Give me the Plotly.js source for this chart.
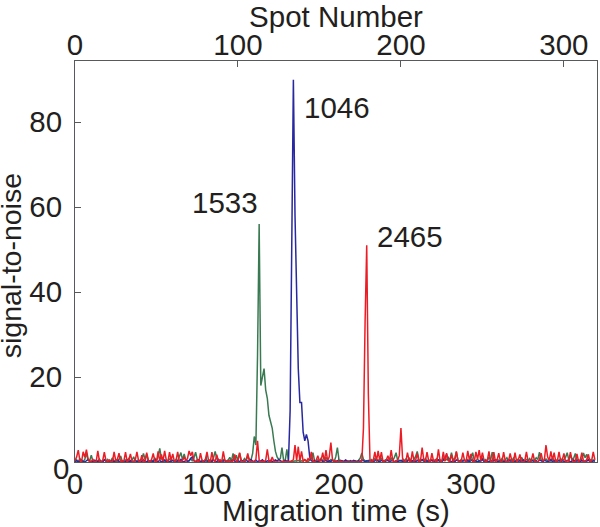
<!DOCTYPE html>
<html>
<head>
<meta charset="utf-8">
<script src="https://cdn.plot.ly/plotly-3.0.1.min.js"></script>
<style>
  html, body { margin: 0; padding: 0; background: #fff; }
  #graph { width: 600px; height: 527px; }
</style>
</head>
<body>
<div id="graph"></div>
<script>
// one value per spot (spot 0 .. 319), signal-to-noise
const green = [
  0.2, 0.5, 0.1, 0.8, 0.3, 0.1, 0.6, 2.1, 0.4, 0.3, 1.6, 0.2, 0, 0.4, 0.2, 0.7, 0.1, 0.3, 0.5, 0.2,
  0.6, 0.1, 0.3, 1.0, 0.2, 0.4, 0.1, 0.6, 1.4, 0.2, 0.1, 0.5, 0.3, 0.8, 0.2, 0.4, 1.2, 0.3, 0.1, 0.5,
  0.2, 0.7, 2.0, 0.6, 1.8, 0.3, 0.1, 0.4, 0.2, 0.9, 0.3, 1.2, 3.2, 0.8, 0.2, 0.1, 0.5, 0.3, 0.7, 0.2,
  0.4, 0.2, 0.6, 0.3, 1.1, 2.2, 0.5, 1.9, 0.4, 0.2, 0.3, 0.8, 0.2, 1.0, 2.3, 0.6, 0.3, 0.1, 0.4, 0.2,
  0.5, 0.1, 0.3, 0.6, 0.2, 1.0, 2.5, 0.8, 0.2, 0.4, 0.1, 0.6, 0.3, 0.2, 0.5, 1.1, 0.2, 2.0, 0.5, 1.6,
  0.3, 2.1, 0.4, 0.2, 0.8, 0.3, 1.3, 0.6, 0.5, 2.0, 6.0, 4.0, 25, 56, 18, 20, 22, 17, 15, 11,
  9.5, 8.0, 5.0, 2.5, 1.2, 0.6, 0.8, 3.4, 0.4, 0.3, 3.0, 0.2, 0.1, 0.2, 0.1, 0.3, 0.2, 0.4, 0.1, 0.3,
  0.2, 0.6, 0.3, 0.1, 0.4, 0.8, 2.2, 0.3, 0.1, 0.5, 0.2, 0.9, 0.3, 0.1, 1.1, 0.4, 0.2, 0.6, 0.3, 0.1,
  1.2, 3.4, 0.5, 0.2, 0.3, 0.1, 0.2, 0.1, 0.3, 0.1, 0.2, 0.1, 0.3, 0.2, 0.4, 0.9, 2.1, 0.6, 0.3, 0.2,
  0.4, 0.2, 0.6, 0.3, 0.8, 0.2, 0.5, 0.3, 1.0, 0.2, 0.4, 0.6, 0.3, 0.2, 0.9, 0.4, 1.1, 2.2, 0.3, 0.4,
  0.2, 0.5, 0.3, 0.7, 0.2, 1.0, 0.4, 0.2, 0.6, 1.3, 2.5, 0.6, 0.2, 0.4, 0.3, 0.8, 0.2, 0.5, 0.3, 0.6,
  0.2, 0.4, 0.8, 0.3, 0.5, 0.2, 0.9, 0.3, 0.6, 1.1, 0.4, 2.2, 0.5, 0.8, 2.4, 0.4, 0.2, 0.6, 0.3, 0.5,
  0.3, 0.6, 0.2, 1.0, 2.2, 0.4, 0.3, 0.7, 0.2, 0.5, 0.9, 0.3, 0.6, 0.2, 1.2, 0.4, 2.3, 0.5, 0.2, 0.6,
  0.4, 0.2, 0.8, 0.3, 0.5, 1.0, 0.2, 0.6, 0.3, 0.9, 0.2, 0.4, 0.7, 0.3, 1.1, 0.5, 0.2, 0.6, 0.3, 0.8,
  0.2, 0.5, 0.3, 1.0, 0.6, 2.3, 0.5, 0.2, 0.4, 0.7, 0.3, 0.6, 0.2, 0.9, 0.4, 0.3, 0.6, 0.2, 0.8, 0.4,
  0.6, 1.1, 2.2, 0.5, 1.6, 0.6, 0.9, 2.0, 0.4, 0.5, 0.3, 0.8, 2.1, 1.0, 1.8, 0.4, 0.6, 0.3, 0.5, 0.2
];

const blue = [
  0.1, 0.3, 0, 0.2, 0.5, 0.1, 0, 0.3, 0.6, 0.2, 0, 0.1, 0.4, 0, 0.2, 0.3, 0.1, 0, 0.5, 0.2,
  0, 0.3, 0.1, 0.4, 0, 0.2, 0.6, 0.1, 0, 0.3, 0.2, 0, 0.5, 0.1, 0.3, 0, 0.2, 0.4, 0.1, 0,
  0.3, 0.1, 0.5, 0.2, 0, 0.4, 0.1, 0.3, 0, 0.6, 0.2, 0.1, 0.4, 0, 0.2, 0.5, 0.1, 0.3, 0, 0.2,
  0.4, 0.1, 0, 0.3, 0.2, 0.6, 0.1, 0, 0.4, 0.2, 0.3, 0.8, 1.2, 0.3, 0.1, 0.2, 0.5, 0, 0.3, 0.1,
  0.2, 0.4, 0, 0.3, 0.1, 0.5, 0.2, 0, 0.6, 0.1, 0.3, 0.2, 0.4, 0, 0.2, 0.3, 0.1, 0.5, 0.2, 0,
  0.3, 0.1, 0.4, 0.2, 0, 0.5, 0.1, 0.3, 0.6, 0.2, 0, 0.4, 0.1, 0.3, 0.2, 0.5, 0.1, 0, 0.3, 0.2,
  0.4, 0.1, 0.3, 0.5, 0.2, 0.6, 0.3, 0.1, 0.2, 0.4, 0.2, 0.3, 12, 50, 90, 58, 38, 22, 14, 14,
  7.0, 5.0, 6.5, 5.0, 1.2, 0.3, 0.1, 0.4, 0.2, 0, 0.3, 0.5, 0.1, 0.2, 0.4, 0, 0.3, 0.1, 0.5, 0.2,
  0.1, 0.3, 0, 0.4, 0.2, 0.1, 0.5, 0.2, 0, 0.3, 0.1, 0.4, 0.2, 0, 0.3, 0.1, 0.5, 0.2, 0.1, 0.3,
  0.2, 0.4, 0.1, 0, 0.3, 0.6, 0.2, 0.1, 0.4, 0.2, 0, 0.3, 0.5, 0.1, 0.2, 0.4, 0, 0.3, 0.1, 0.2,
  0.4, 0.1, 0.3, 0, 0.2, 0.5, 0.1, 0.3, 0.2, 0, 0.4, 0.1, 0.3, 0.6, 0.2, 0.1, 0.3, 0, 0.2, 0.4,
  0.1, 0.3, 0.2, 0.5, 0.1, 0, 0.4, 0.8, 1.8, 0.4, 0.2, 0.1, 0.3, 0, 0.5, 0.2, 0.1, 0.3, 0.2, 0.4,
  0, 0.3, 0.1, 0.5, 0.2, 0.4, 0.1, 0, 0.3, 0.2, 0.6, 0.1, 0.3, 0.2, 0, 0.4, 0.1, 0.3, 0.5, 0.2,
  0.1, 0.4, 0.2, 0, 0.3, 0.1, 0.5, 0.2, 0.3, 0.1, 0, 0.4, 0.2, 0.3, 0.1, 0.5, 0.2, 0, 0.3, 0.1,
  0.4, 0.2, 0.1, 0.3, 0, 0.5, 0.2, 0.1, 0.4, 0.3, 0.1, 0.2, 0.6, 0.1, 0.3, 0, 0.2, 0.4, 0.1, 0.3,
  0.2, 0.1, 0.4, 0.3, 0, 0.2, 0.5, 0.1, 0.3, 0.2, 0, 0.4, 0.1, 0.3, 0.2, 0.5, 0.1, 0, 0.3, 0.2
];

const red = [
  0.3, 1.2, 2.8, 0.4, 0, 2.4, 1.1, 2.9, 0.8, 0, 0.2, 0.6, 0, 0.1, 2.6, 0.2, 0, 0.4, 2.3, 0.3,
  0, 0.5, 0, 0.2, 2.4, 0.3, 0.6, 2.1, 0, 0.3, 0.2, 2.3, 0.1, 0.4, 1.9, 0.2, 0, 0.5, 2.4, 0.3,
  0, 1.6, 0.2, 0, 2.2, 0.4, 0.1, 0.6, 2.0, 0.2, 0, 2.5, 0.3, 1.8, 0.2, 2.6, 0.5, 0, 2.3, 0.4,
  1.9, 0.1, 0.3, 2.4, 0.2, 0, 0.4, 1.2, 0.3, 0.8, 2.6, 1.5, 2.4, 0.3, 0.1, 0.5, 0, 2.1, 0.3, 0.2,
  0.6, 2.4, 0.2, 0, 2.3, 0.4, 0.1, 1.7, 0.2, 0.5, 0, 2.5, 0.3, 0.2, 0.1, 0.4, 0, 0.3, 1.8, 0.1,
  0.4, 2.2, 0.3, 0, 0.2, 0.5, 2.0, 0.3, 0, 0.1, 0.2, 0.6, 5.0, 0.5, 0, 0.2, 0.1, 0.4, 3.0, 0.3,
  0, 1.2, 0.2, 0, 0, 0.1, 0, 0, 0.2, 0, 0, 0.1, 0, 0.3, 0.5, 4.0, 0.3, 3.6, 0.2, 2.5,
  0.2, 0.5, 0.1, 0.8, 0.3, 2.4, 0.2, 0, 0.4, 1.5, 0.2, 0.3, 2.2, 0.1, 2.8, 0.3, 1.2, 4.6, 0.5, 0.2,
  0.3, 0.1, 0, 0.2, 0, 0, 0, 0, 0, 0.1, 0, 0, 0, 0, 0, 0, 0.2, 8, 33, 51,
  16, 0.4, 0.1, 0.3, 2.4, 0.2, 2.6, 0.3, 2.3, 0.1, 0.2, 0.4, 1.5, 0.2, 2.8, 0.3, 0.1, 0.2, 0.4, 1.5,
  8.0, 0.9, 0.2, 0.1, 2.2, 0.3, 0, 2.5, 0.2, 0.4, 2.0, 0.1, 0.3, 3.4, 0.5, 0.2, 2.3, 0.3, 0, 2.1,
  0.2, 0.5, 0.1, 3.0, 0.3, 0, 2.4, 0.2, 2.1, 0.3, 0.1, 1.7, 0.2, 0.4, 2.5, 0.3, 0, 0.2, 2.2, 0.4,
  0.1, 2.6, 0.5, 1.9, 0.2, 0.1, 2.4, 0.6, 2.8, 0.3, 2.2, 0.4, 0.1, 0.3, 2.5, 0.2, 0, 2.3, 0.1, 0.4,
  2.1, 0.2, 0.1, 2.3, 0.3, 0.1, 0.2, 2.0, 0.4, 0, 2.2, 0.1, 0.5, 1.8, 0.2, 0, 0.3, 2.4, 0.2, 0.1,
  0.4, 2.0, 0.2, 0, 0, 0.6, 2.1, 0.3, 0.5, 4.0, 1.2, 0.3, 2.5, 0.4, 2.2, 0.1, 0.3, 2.4, 0.2, 0.5,
  2.0, 0.1, 0.3, 0.2, 2.3, 0.4, 0, 0.2, 1.9, 0.1, 0.4, 2.2, 0.2, 0, 0.6, 1.8, 0.1, 0.3, 2.4, 0.5
];

const peakLabels = ['1533', '1046', '2465'];
const peakLabelSpot = [92, 160.5, 205.5];
const peakLabelSnr = [61, 83.5, 53];

const timeRange = [0, 395.5];
const spotRange = [0, 320.3];
const timeTicks = [0, 100, 200, 300];
const spotTicks = [0, 100, 200, 300];
const snrTicks = [0, 20, 40, 60, 80];

const font = 'Liberation Sans, Arial, Helvetica, sans-serif';
const fs = 29.5;
const ink = '#231f20';
const axisLine = '#58595b';

const graphData = [
  // empty trace so the bottom (time) axis is drawn
  { x: timeRange, y: [null, null], xaxis: 'x', yaxis: 'y', mode: 'lines', hoverinfo: 'skip' },
  // the signals go on the top (spot) axis; x is the spot index
  { y: green, xaxis: 'x2', yaxis: 'y', mode: 'lines', line: { color: 'rgb(58,122,82)', width: 1.5 }, hoverinfo: 'skip' },
  { y: blue, xaxis: 'x2', yaxis: 'y', mode: 'lines', line: { color: 'rgb(40,40,160)', width: 1.5 }, hoverinfo: 'skip' },
  { y: red, xaxis: 'x2', yaxis: 'y', mode: 'lines', line: { color: 'rgb(236,28,36)', width: 1.5 }, hoverinfo: 'skip' }
];

const annotations = peakLabels.map((t, i) => ({
  text: t, x: peakLabelSpot[i], y: peakLabelSnr[i], xref: 'x2', yref: 'y',
  showarrow: false, font: { family: font, size: fs, color: ink }
}));
// the y "0" sits lower and closer to the axis than the other tick labels
annotations.push({
  text: '0', xref: 'paper', x: -0.046, yref: 'y', y: 0, yshift: -6,
  showarrow: false, font: { family: font, size: fs, color: ink }
});
// y axis title, placed by hand so it keeps clear of the tick labels
annotations.push({
  text: 'signal-to-noise', textangle: -90,
  xref: 'paper', x: -0.123, xanchor: 'center',
  yref: 'paper', y: 0.49, yanchor: 'middle',
  showarrow: false, font: { family: font, size: 28.5, color: ink }
});

const layout = {
  width: 600,
  height: 527,
  margin: { l: 75, r: 3, t: 61, b: 65 },
  paper_bgcolor: '#fff',
  plot_bgcolor: '#fff',
  showlegend: false,
  font: { family: font, size: fs, color: ink },
  xaxis: {
    range: timeRange,
    tickvals: timeTicks,
    ticks: 'inside', ticklen: 6, tickcolor: axisLine,
    ticklabelstandoff: -4,
    showline: true, linecolor: axisLine, linewidth: 1,
    showgrid: false, zeroline: false,
    tickfont: { size: fs },
    title: { text: 'Migration time (s)', font: { size: fs }, standoff: 0 }
  },
  xaxis2: {
    overlaying: 'x', side: 'top', anchor: 'y',
    range: spotRange,
    tickvals: spotTicks,
    ticks: 'inside', ticklen: 6, tickcolor: axisLine,
    ticklabelstandoff: -7,
    showline: true, linecolor: axisLine, linewidth: 1,
    showgrid: false, zeroline: false,
    tickfont: { size: fs },
    title: { text: 'Spot Number', font: { size: fs }, standoff: 3 }
  },
  yaxis: {
    range: [0, 94.4],
    tickvals: snrTicks,
    ticktext: ['', '20', '40', '60', '80'],
    ticks: 'inside', ticklen: 6, tickcolor: axisLine,
    ticklabelstandoff: 6,
    showline: true, mirror: true, linecolor: axisLine, linewidth: 1,
    showgrid: false, zeroline: false,
    tickfont: { size: fs }
  },
  annotations: annotations
};

Plotly.newPlot('graph', graphData, layout, { displayModeBar: false, staticPlot: true });
</script>
</body>
</html>
